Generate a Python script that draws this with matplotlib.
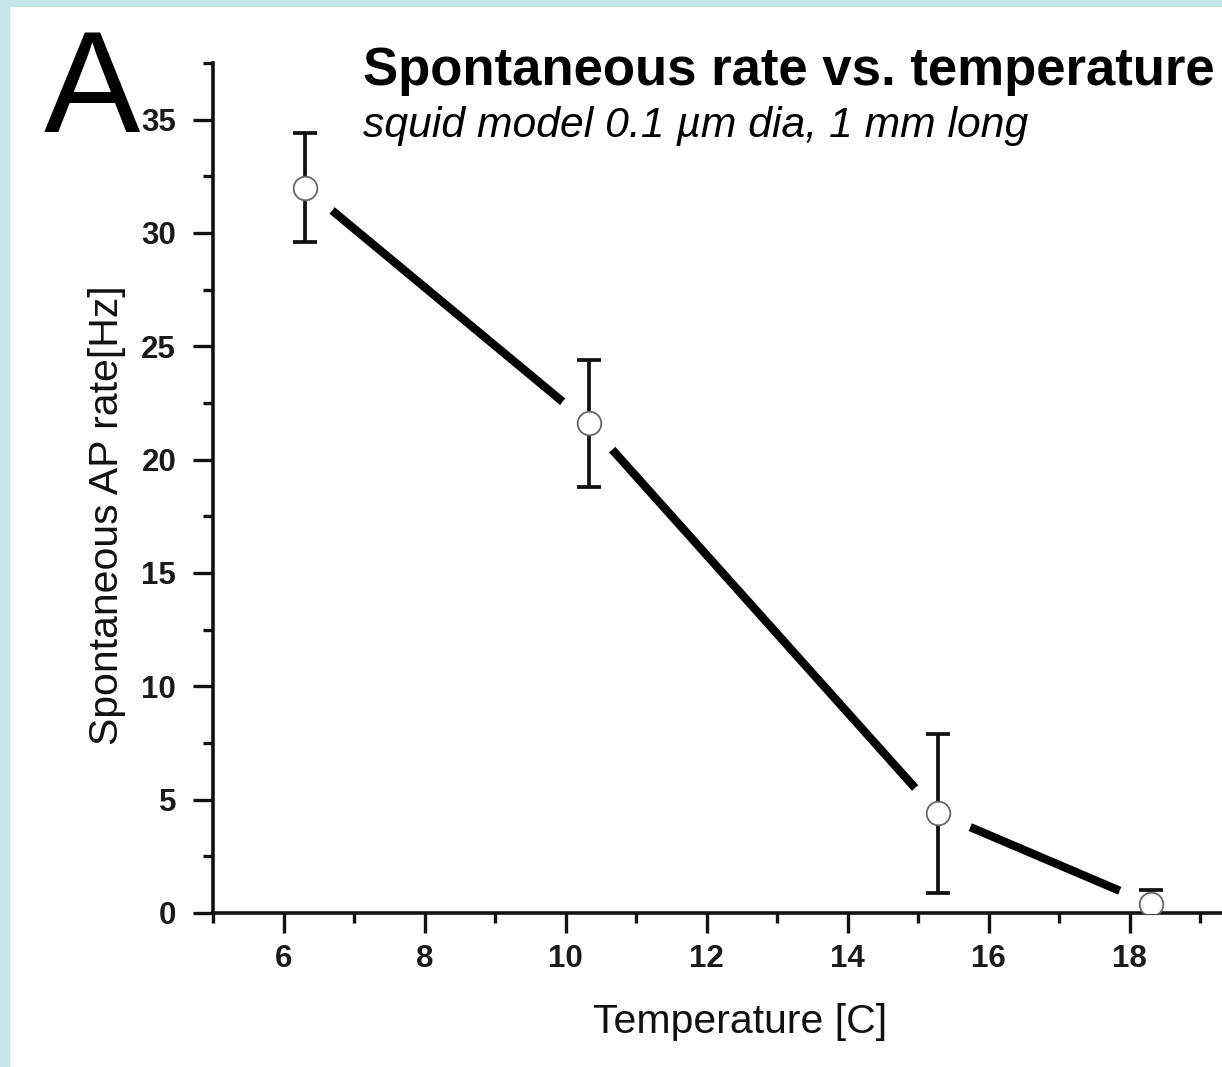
import matplotlib.pyplot as plt
from matplotlib.ticker import MultipleLocator
from matplotlib.patches import Rectangle

plt.rcParams['font.family'] = ['Liberation Sans', 'DejaVu Sans']

# spontaneous AP rate at each temperature, with error bars
temperature = [6.3, 10.33, 15.28, 18.3]
rate = [32.0, 21.6, 4.4, 0.4]
rate_err = [2.4, 2.8, 3.5, 0.6]

title = "Spontaneous rate vs. temperature"
subtitle = "squid model 0.1 \u00b5m dia, 1 mm long"

fig = plt.figure(figsize=(12.22, 10.67), dpi=100)
fig.patch.set_facecolor("white")

# light blue frame on the top and left edges
frame = "#c5e5e9"
fig.patches.append(Rectangle((0, 0), 9 / 1222, 1, transform=fig.transFigure,
                             color=frame, zorder=0))
fig.patches.append(Rectangle((0, 1 - 6 / 1067), 1, 6 / 1067, transform=fig.transFigure,
                             color=frame, zorder=0))

ax = fig.add_axes([213 / 1222, 1 - 913 / 1067, 1 - 213 / 1222, 850 / 1067])
ax.set_facecolor("none")
ax.set_axisbelow(False)

# thick connecting line, with white disks opening a gap round each point
ax.plot(temperature, rate, color="black", lw=6, solid_capstyle="butt", zorder=1.5)
ax.plot(temperature, rate, ls="none", marker="o", ms=50, mfc="white", mec="none", zorder=1.8)
ax.errorbar(temperature, rate, yerr=rate_err, fmt="none", ecolor="#111111",
            elinewidth=2.7, capsize=8.6, capthick=2.7, zorder=3)
ax.plot(temperature, rate, ls="none", marker="o", ms=17, mfc="white", mec="#666666",
        mew=1.3, zorder=4)

ax.set_xlim(5, 5 + 1009 / 70.5)
ax.set_ylim(0, 37.5)
ax.xaxis.set_major_locator(MultipleLocator(2))
ax.xaxis.set_minor_locator(MultipleLocator(1))
ax.yaxis.set_major_locator(MultipleLocator(5))
ax.yaxis.set_minor_locator(MultipleLocator(2.5))

for side in ["top", "right"]:
    ax.spines[side].set_visible(False)
for side in ["left", "bottom"]:
    ax.spines[side].set_linewidth(2.6)
    ax.spines[side].set_color("#111111")

ax.tick_params(which="major", length=14.5, width=2.4, color="#111111", labelsize=22.5,
               labelcolor="#1a1a1a")
ax.tick_params(which="minor", length=7.5, width=2.4, color="#111111")
ax.tick_params(axis="y", which="major", pad=12)
ax.tick_params(axis="x", which="major", pad=8)
for lbl in ax.get_xticklabels() + ax.get_yticklabels():
    lbl.set_fontweight("bold")

ax.set_xlabel("Temperature [C]", fontsize=29.5, color="#111111", va="center")
ax.xaxis.set_label_coords(0.522, -0.128)
ax.set_ylabel("Spontaneous AP rate[Hz]", fontsize=29.5, color="#111111", va="center",
              ha="center")
ax.yaxis.set_label_coords(-0.105, 0.468)

fig.text(44 / 1222, 1 - 132 / 1067, "A", fontsize=104, va="baseline", ha="left")
fig.text(363 / 1222, 1 - 85 / 1067, title, fontsize=38, fontweight="bold",
         va="baseline", ha="left")
fig.text(363 / 1222, 1 - 137 / 1067, subtitle, fontsize=30.7, style="italic",
         va="baseline", ha="left")

fig.savefig("out.png", dpi=100)
